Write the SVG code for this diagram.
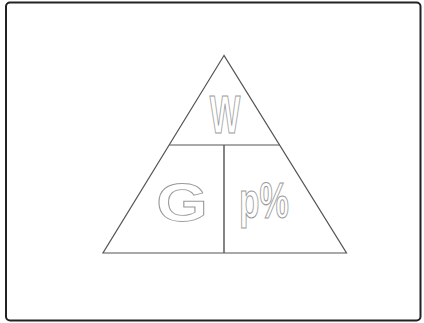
<svg xmlns="http://www.w3.org/2000/svg" width="424" height="323" viewBox="0 0 424 323">
<style>
.ln{stroke:#555;stroke-width:1.2;fill:none}
.lbl{font-family:"Liberation Sans",Arial,sans-serif;font-weight:bold;fill:#fff;stroke:#9a9a9a;stroke-width:1;vector-effect:non-scaling-stroke;text-anchor:middle}
</style>
<rect x="6" y="2.5" width="414.5" height="318" rx="4" fill="#fff" stroke="#222" stroke-width="2"/>
<g id="triangle">
<polygon class="ln" points="224,55.5 103,253 346.5,253"/>
<line class="ln" x1="169.5" y1="145" x2="279.5" y2="145"/>
<line x1="224" y1="145" x2="224" y2="253" stroke="#666" stroke-width="1.6"/>
</g>
<g id="W"><text class="lbl" transform="translate(225,133) scale(0.6,1)" font-size="54">W</text></g>
<g id="G"><text class="lbl" transform="translate(182,220.5) scale(1.25,1)" font-size="53">G</text></g>
<g id="p"><text class="lbl" transform="translate(264,218) scale(0.66,1)" font-size="50">p%</text></g>
</svg>
